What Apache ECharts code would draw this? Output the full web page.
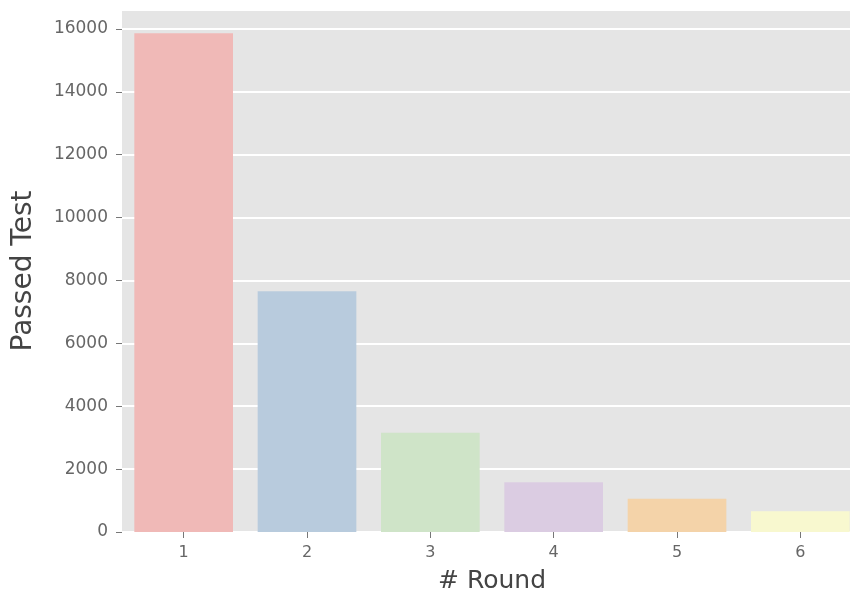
<!DOCTYPE html>
<html>
<head>
<meta charset="utf-8">
<script src="https://cdn.jsdelivr.net/npm/echarts@6/dist/echarts.min.js"></script>
<style>
  html, body { margin: 0; padding: 0; background: #fff; overflow: hidden; }
  #wrap { width: 850px; height: 599px; overflow: hidden; position: relative; }
  /* plot runs a little past the right edge, as in the reference */
  #chart { width: 862px; height: 599px; position: absolute; left: 0; top: 0; }
</style>
</head>
<body>
<div id="wrap"><div id="chart"></div></div>
<script>
// rounds and passed-test counts
const rounds = ['1', '2', '3', '4', '5', '6'];
const passed = [15860, 7660, 3160, 1580, 1060, 660];
const barColors = ['#F0B9B7', '#B8CBDD', '#CFE4C8', '#DBCCE2', '#F4D3A9', '#F8F8CF'];

const chart = echarts.init(document.getElementById('chart'));

const option = {
  animation: false,
  grid: {
    left: 122,
    right: 0,
    top: 10,
    bottom: 63,
    show: true,
    backgroundColor: '#E5E5E5',
    borderWidth: 0
  },
  xAxis: {
    type: 'category',
    data: rounds,
    name: '# Round',
    nameLocation: 'middle',
    nameGap: 37,
    nameTextStyle: { fontSize: 25, color: '#444', fontFamily: 'DejaVu Sans' },
    axisLine: { show: false },
    axisTick: { show: true, alignWithLabel: true, length: 6, lineStyle: { color: '#777' } },
    axisLabel: { fontSize: 16, color: '#666', margin: 13, fontFamily: 'DejaVu Sans' },
    splitLine: { show: false }
  },
  yAxis: {
    type: 'value',
    min: 0,
    max: 16600,
    interval: 2000,
    name: 'Passed Test',
    nameLocation: 'middle',
    nameGap: 84,
    nameTextStyle: { fontSize: 28, color: '#444', fontFamily: 'DejaVu Sans' },
    axisLine: { show: false },
    axisTick: { show: true, length: 6, lineStyle: { color: '#777' } },
    axisLabel: {
      fontSize: 17, color: '#666', margin: 14, fontFamily: 'DejaVu Sans',
      showMaxLabel: false,
      formatter: v => String(v)
    },
    splitLine: { show: true, lineStyle: { color: '#FFFFFF', width: 2 } }
  },
  series: [
    {
      type: 'bar',
      data: passed.map((v, i) => ({ value: v, itemStyle: { color: barColors[i] } })),
      barWidth: '80%'
    }
  ]
};

chart.setOption(option);
</script>
</body>
</html>
